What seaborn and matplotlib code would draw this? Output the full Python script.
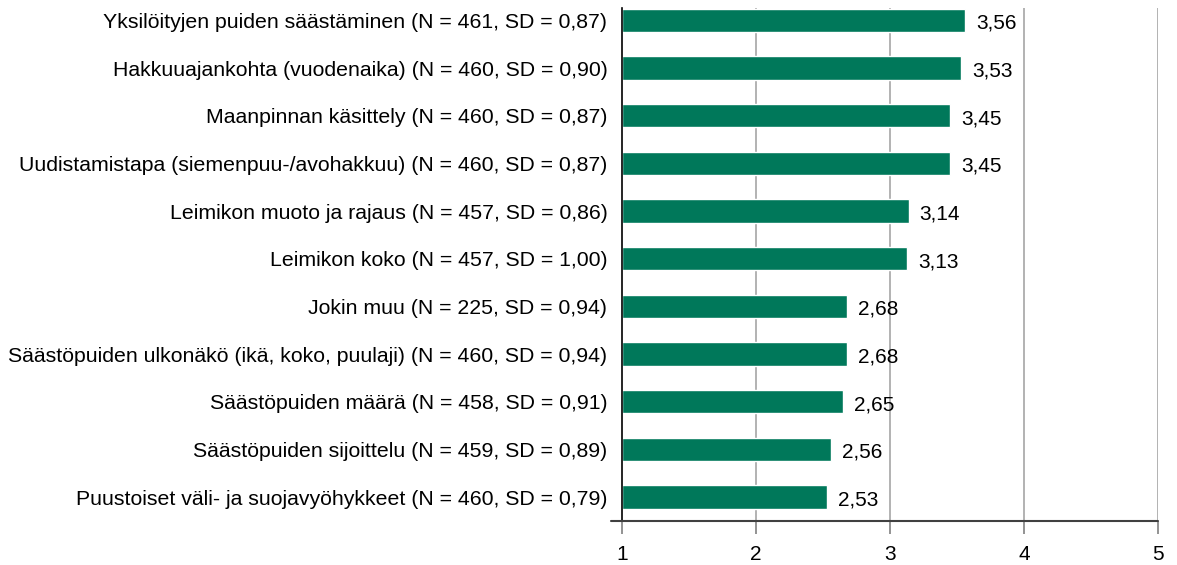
import matplotlib
matplotlib.use("Agg")
import matplotlib.pyplot as plt
import seaborn as sns
import pandas as pd

# Data
labels = [
    "Yksilöityjen puiden säästäminen (N = 461, SD = 0,87)",
    "Hakkuuajankohta (vuodenaika) (N = 460, SD = 0,90)",
    "Maanpinnan käsittely (N = 460, SD = 0,87)",
    "Uudistamistapa (siemenpuu-/avohakkuu) (N = 460, SD = 0,87)",
    "Leimikon muoto ja rajaus (N = 457, SD = 0,86)",
    "Leimikon koko (N = 457, SD = 1,00)",
    "Jokin muu (N = 225, SD = 0,94)",
    "Säästöpuiden ulkonäkö (ikä, koko, puulaji) (N = 460, SD = 0,94)",
    "Säästöpuiden määrä (N = 458, SD = 0,91)",
    "Säästöpuiden sijoittelu (N = 459, SD = 0,89)",
    "Puustoiset väli- ja suojavyöhykkeet (N = 460, SD = 0,79)",
]
means = [3.56, 3.53, 3.45, 3.45, 3.14, 3.13, 2.68, 2.68, 2.65, 2.56, 2.53]
x_ticks = [1, 2, 3, 4, 5]

df = pd.DataFrame({"label": labels, "mean": means})
base = 1
df["len"] = df["mean"] - base

sns.set_theme(style="white")
plt.rcParams["font.family"] = ["Liberation Sans", "DejaVu Sans"]

fig = plt.figure(figsize=(11.77, 5.65), dpi=100)
ax = fig.add_axes([0.5285, 0.0779, 0.4554, 0.9079])

# pystysuuntaiset apuviivat
for t in x_ticks[1:]:
    ax.axvline(t, color="#a6a6a6", lw=1.2, zorder=0)

sns.barplot(data=df, y="label", x="len", left=base, color="#00785a",
            saturation=1, width=0.49, orient="h", ax=ax, zorder=2)

for i, v in enumerate(means):
    ax.text(v + 0.08, i + 0.06, f"{v:.2f}".replace(".", ","),
            va="center", ha="left", fontsize=15, color="black")

ax.set_xlim(1, 5)
ax.set_ylim(10.5, -0.26)
ax.set_xticks(x_ticks)
ax.set_xticklabels([str(t) for t in x_ticks])
ax.set_xlabel("")
ax.set_ylabel("")

for s in ["top", "right", "bottom"]:
    ax.spines[s].set_visible(False)
ax.spines["left"].set_color("black")
ax.spines["left"].set_linewidth(1.2)

# x-akselin viiva jatkuu hieman vasemman reunan yli
ax.plot([-0.02, 1.0], [0, 0], transform=ax.transAxes, color="#404040",
        lw=1.5, clip_on=False, zorder=3)

ax.tick_params(axis="x", bottom=True, direction="out", length=9.5, width=1.2,
               color="#808080", labelsize=15, pad=7.5, labelcolor="black")
ax.tick_params(axis="y", left=False, labelsize=15.3, pad=4.5, labelcolor="black")

fig.savefig("out.png", dpi=100)
